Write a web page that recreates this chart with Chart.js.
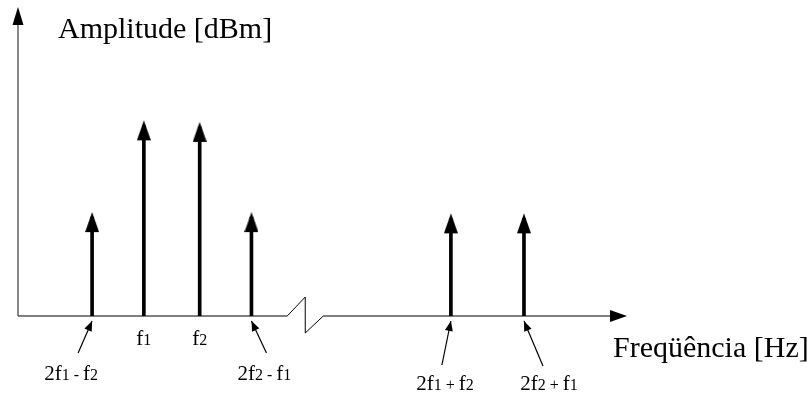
<!DOCTYPE html>
<html>
<head>
<meta charset="utf-8">
<script src="https://cdn.jsdelivr.net/npm/chart.js@4.4.1/dist/chart.umd.min.js"></script>
<style>
  body { margin: 0; background: #fff; }
  #wrap { width: 812px; height: 397px; position: relative; }
</style>
</head>
<body>
<div id="wrap"><canvas id="spec"></canvas></div>
<script>
// spectrum lines (frequency position in arbitrary units, amplitude in arbitrary units)
const toneLabels = ['2f{1 - }f{2}', 'f{1}', 'f{2}', '2f{2 - }f{1}', '2f{1 + }f{2}', '2f{2 + }f{1}'];
const tonePos = [1.46, 2.48, 3.58, 4.6, 8.53, 9.97];
const toneAmp = [3.2, 6.17, 6.12, 3.2, 3.16, 3.16];
const axisBreakAt = 5.66;
const xTitle = 'Freqüência [Hz]';
const yTitle = 'Amplitude [dBm]';

// label placement: [dx from stem, baseline y, pointer?]
const labelLayout = [
  { dx: -21, y: 380, ptr: -14, tail: 353 },
  { dx: 0, y: 345 },
  { dx: 0, y: 345 },
  { dx: 13, y: 380, ptr: 15, tail: 353 },
  { dx: -6, y: 390, ptr: -9, tail: 365 },
  { dx: 25, y: 390, ptr: 19, tail: 366 }
];

const SERIF = '"Liberation Serif", "Times New Roman", serif';

// arrow head image, tip placed 5px above the point
function makeHead() {
  const c = document.createElement('canvas');
  c.width = 14; c.height = 40;
  const g = c.getContext('2d');
  g.fillStyle = '#000';
  g.beginPath();
  g.moveTo(7, 15);
  g.lineTo(14, 35);
  g.lineTo(0, 35);
  g.closePath();
  g.fill();
  return c;
}

function arrowHead(ctx, x1, y1, x2, y2, len, half) {
  const a = Math.atan2(y2 - y1, x2 - x1);
  ctx.beginPath();
  ctx.moveTo(x2, y2);
  ctx.lineTo(x2 - len * Math.cos(a) + half * Math.sin(a), y2 - len * Math.sin(a) - half * Math.cos(a));
  ctx.lineTo(x2 - len * Math.cos(a) - half * Math.sin(a), y2 - len * Math.sin(a) + half * Math.cos(a));
  ctx.closePath();
  ctx.fill();
}

// split 'a{b}c' into big / small runs
function parts(s) {
  const out = [];
  s.split(/([{}])/).reduce((small, t) => {
    if (t === '{') return true;
    if (t === '}') return false;
    if (t) out.push([t, small]);
    return small;
  }, false);
  return out;
}

function drawLabel(ctx, s, cx, y) {
  const runs = parts(s);
  let w = 0;
  runs.forEach(r => {
    ctx.font = (r[1] ? 16 : 21) + 'px ' + SERIF;
    w += ctx.measureText(r[0]).width;
  });
  let x = cx - w / 2;
  runs.forEach(r => {
    ctx.font = (r[1] ? 16 : 21) + 'px ' + SERIF;
    ctx.fillText(r[0], x, y);
    x += ctx.measureText(r[0]).width;
  });
}

const decor = {
  id: 'decor',
  beforeDatasetsDraw(chart) {
    const ctx = chart.ctx;
    const xs = chart.scales.x, ys = chart.scales.y;
    const y0 = ys.getPixelForValue(0);
    const xL = xs.getPixelForValue(xs.min), xR = xs.getPixelForValue(xs.max);
    const yT = ys.getPixelForValue(ys.max);
    const bx = xs.getPixelForValue(axisBreakAt);
    ctx.save();
    // axes lines
    ctx.strokeStyle = '#555';
    ctx.lineWidth = 1.4;
    ctx.beginPath();
    ctx.moveTo(xL, y0); ctx.lineTo(xL, yT + 16);
    ctx.moveTo(xL, y0); ctx.lineTo(bx - 18, y0);
    ctx.moveTo(bx + 18, y0); ctx.lineTo(xR - 14, y0);
    ctx.stroke();
    // break zigzag
    ctx.strokeStyle = '#000';
    ctx.lineWidth = 1;
    ctx.beginPath();
    ctx.moveTo(bx - 18, y0);
    ctx.lineTo(bx, y0 - 19);
    ctx.lineTo(bx, y0 + 17);
    ctx.lineTo(bx + 18, y0);
    ctx.stroke();
    ctx.fillStyle = '#000';
    arrowHead(ctx, xL, y0, xL, yT, 18, 5.5);
    arrowHead(ctx, xL, y0, xR, y0, 17, 6);
    ctx.restore();
  },
  afterDatasetsDraw(chart) {
    const ctx = chart.ctx;
    const xs = chart.scales.x, ys = chart.scales.y;
    const y0 = ys.getPixelForValue(0);
    ctx.save();
    ctx.fillStyle = '#000';
    ctx.strokeStyle = '#000';
    ctx.textBaseline = 'alphabetic';
    toneLabels.forEach((lab, i) => {
      const px = xs.getPixelForValue(tonePos[i]);
      const L = labelLayout[i];
      drawLabel(ctx, lab, px + L.dx, L.y);
      if (L.ptr !== undefined) {
        ctx.lineWidth = 1.2;
        ctx.beginPath();
        ctx.moveTo(px + L.ptr, L.tail);
        ctx.lineTo(px, y0 + 5);
        ctx.stroke();
        arrowHead(ctx, px + L.ptr, L.tail, px, y0 + 5, 10, 4);
      }
    });
    ctx.font = '30px ' + SERIF;
    ctx.fillText(yTitle, 58, 38);
    ctx.fillText(xTitle, 613, 357);
    ctx.restore();
  }
};

new Chart(document.getElementById('spec'), {
  type: 'bar',
  data: {
    datasets: [
      {
        type: 'scatter',
        data: tonePos.map((x, i) => ({ x, y: toneAmp[i] })),
        pointStyle: makeHead(),
        order: 0
      },
      {
        type: 'bar',
        data: tonePos.map((x, i) => ({ x, y: toneAmp[i] })),
        backgroundColor: '#000',
        barThickness: 3,
        grouped: false,
        order: 1
      }
    ]
  },
  options: {
    responsive: true,
    maintainAspectRatio: false,
    animation: false,
    layout: { padding: { left: 18, right: 185, top: 7, bottom: 81 } },
    plugins: { legend: { display: false }, tooltip: { enabled: false } },
    scales: {
      x: { type: 'linear', min: 0, max: 12, display: false, offset: false },
      y: { type: 'linear', min: 0, max: 10, display: false }
    }
  },
  plugins: [decor]
});
</script>
</body>
</html>
